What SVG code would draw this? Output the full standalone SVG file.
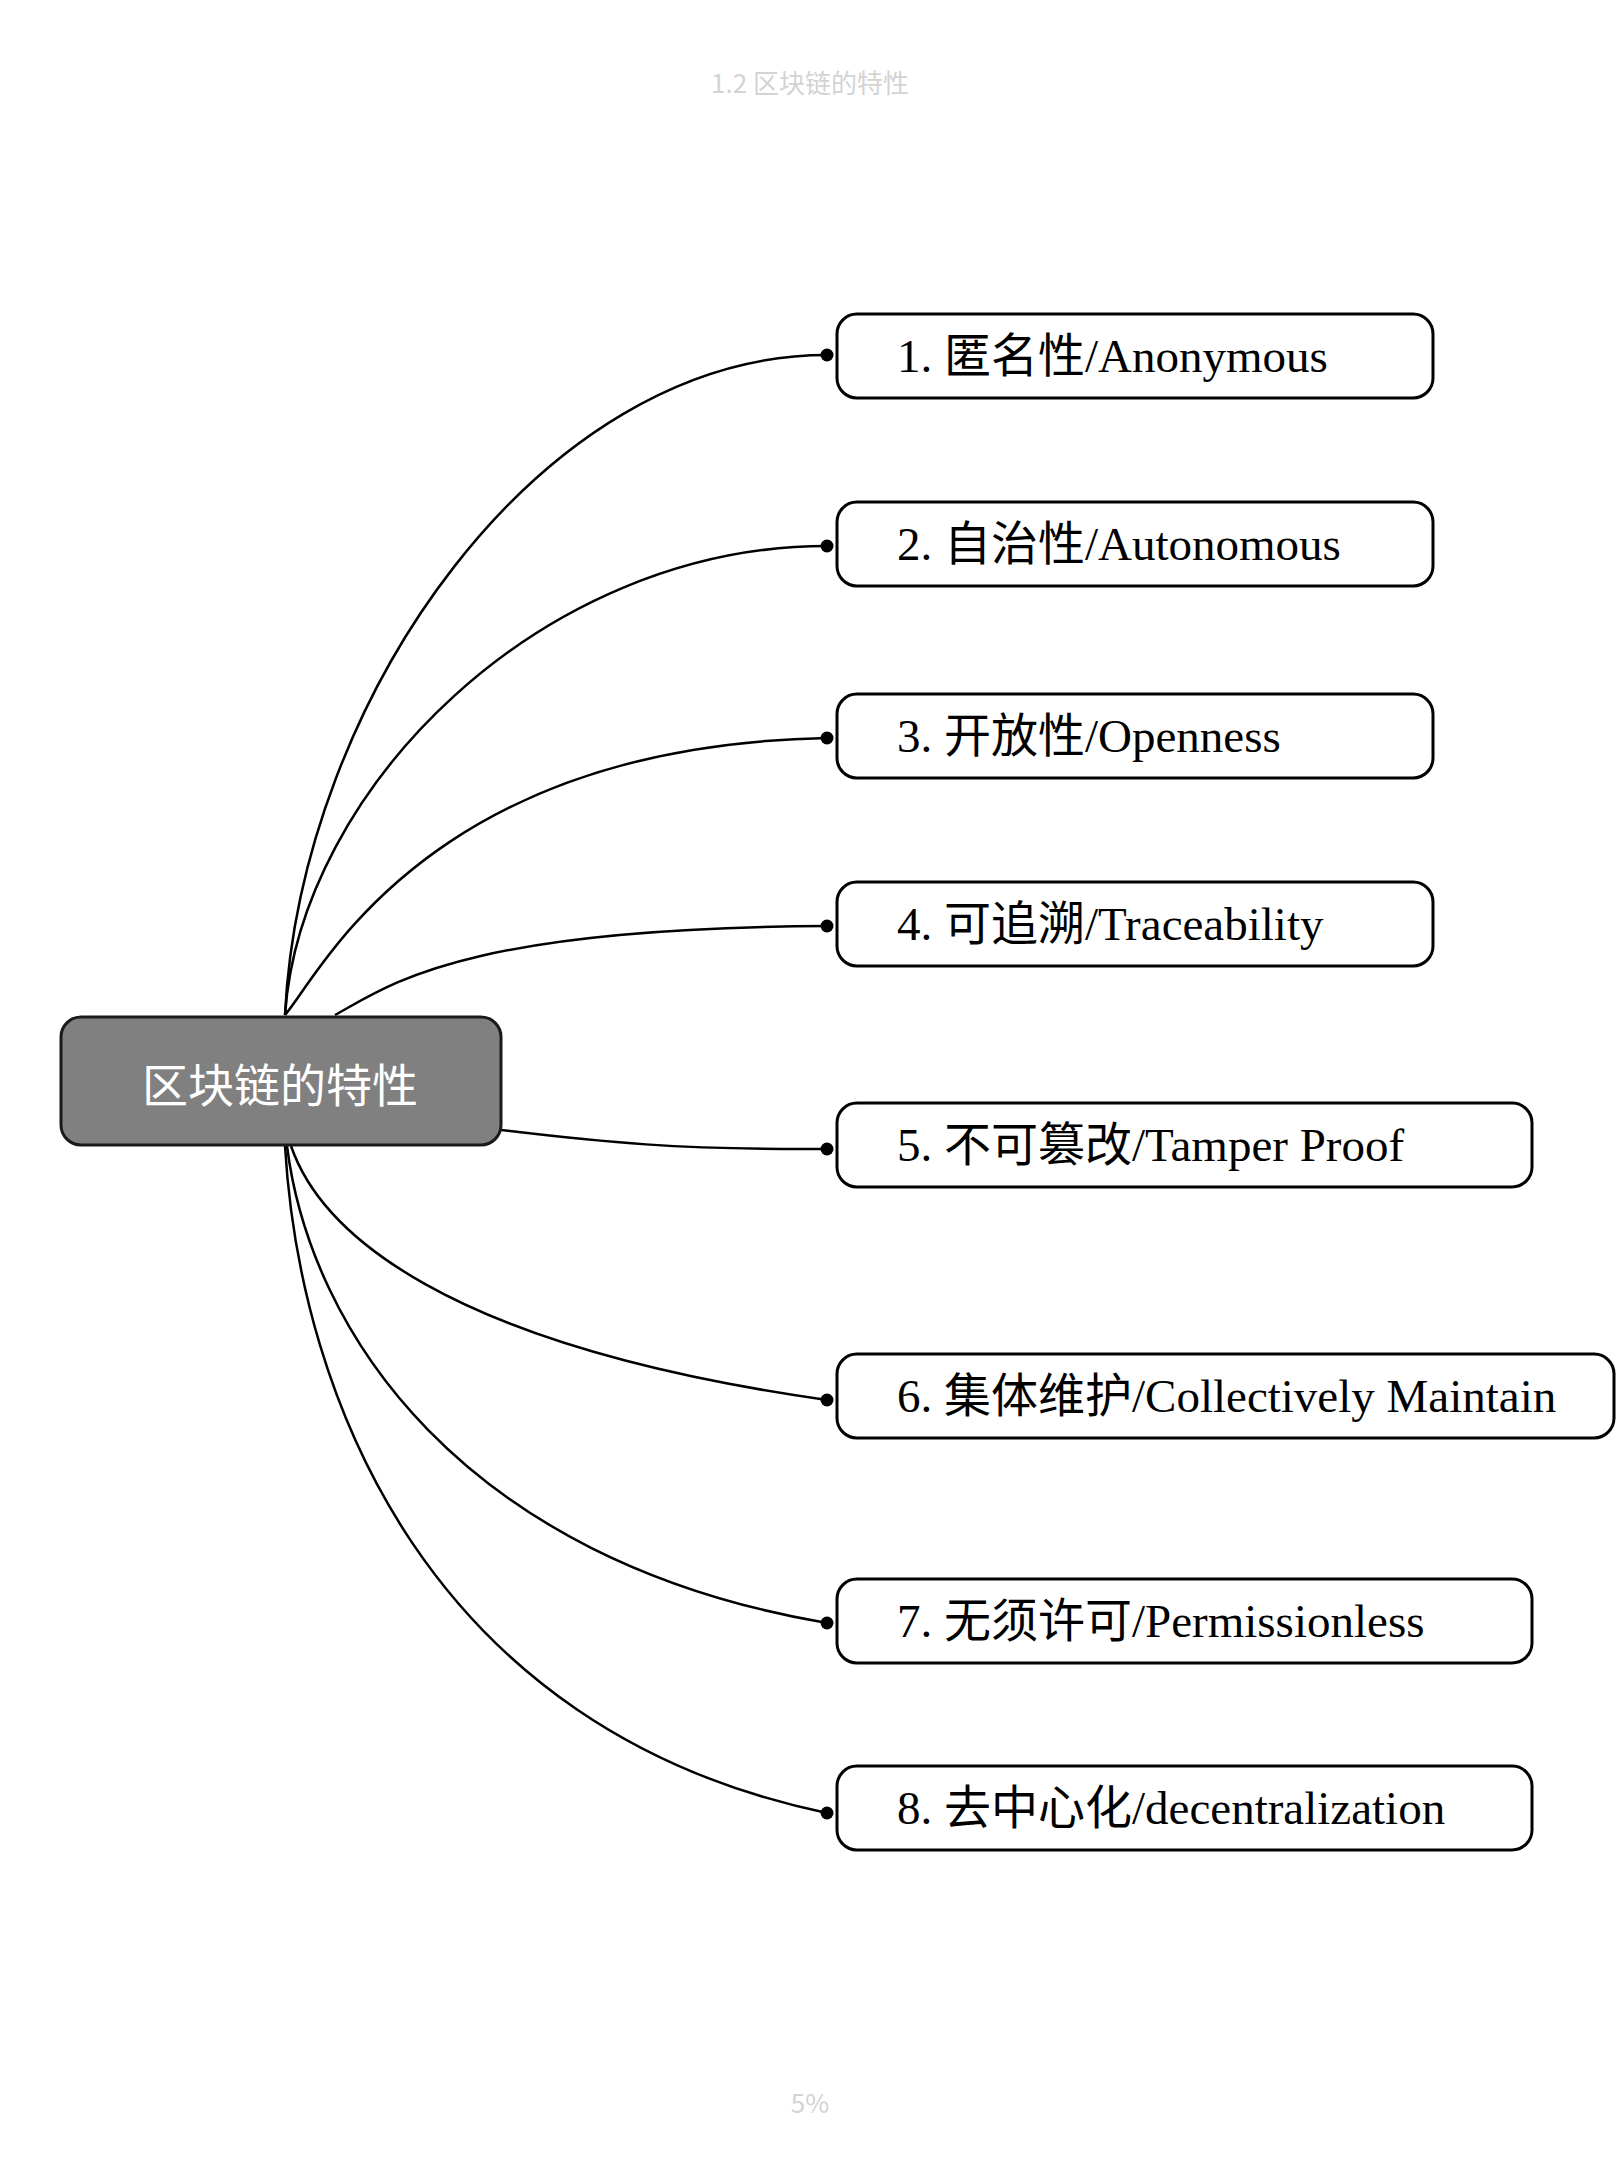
<svg xmlns="http://www.w3.org/2000/svg" width="1620" height="2160" viewBox="0 0 1620 2160">
<style>
.bg{fill:#ffffff}
.node rect{fill:#ffffff;stroke:#000000;stroke-width:3}
.node text{font-family:"Liberation Serif","Noto Sans CJK SC",serif;font-size:47px;fill:#000000}
#root rect{fill:#808080;stroke:#1a1a1a;stroke-width:3}
#root text{font-family:"Noto Sans CJK SC","Liberation Sans",sans-serif;font-size:46px;fill:#ffffff;text-anchor:middle}
.conn path{fill:none;stroke:#000000;stroke-width:2.5}
.conn circle{fill:#000000}
.meta{font-family:"Noto Sans CJK SC","Liberation Sans",sans-serif;font-size:26px;fill:#d3d3d3;text-anchor:middle}
</style>
<rect class="bg" x="0" y="0" width="1620" height="2160"/>
<text class="meta" x="810" y="93">1.2 区块链的特性</text>
<g id="connectors" class="conn">
<path d="M285,1015 C300,700 540,355 827,355"/>
<path d="M285,1015 C300,790 540,546 827,546"/>
<path d="M285,1015 C320,975 425,746 827,738"/>
<path d="M335,1015 C390,985 460,928 827,926"/>
<path d="M501,1130 C600,1142 680,1150 827,1149"/>
<path d="M291,1146 C320,1230 440,1345 827,1400"/>
<path d="M287,1146 C310,1330 460,1560 827,1623"/>
<path d="M285,1146 C300,1400 430,1730 827,1813"/>
<circle cx="827" cy="355" r="6.5"/>
<circle cx="827" cy="546" r="6.5"/>
<circle cx="827" cy="738" r="6.5"/>
<circle cx="827" cy="926" r="6.5"/>
<circle cx="827" cy="1149" r="6.5"/>
<circle cx="827" cy="1400" r="6.5"/>
<circle cx="827" cy="1623" r="6.5"/>
<circle cx="827" cy="1813" r="6.5"/>
</g>
<g id="root">
<rect x="61" y="1017" width="440" height="128" rx="20"/>
<text x="280" y="1102">区块链的特性</text>
</g>
<g id="n1" class="node">
<rect x="837" y="314" width="596" height="84" rx="20"/>
<text x="897" y="372">1. 匿名性/Anonymous</text>
</g>
<g id="n2" class="node">
<rect x="837" y="502" width="596" height="84" rx="20"/>
<text x="897" y="560">2. 自治性/Autonomous</text>
</g>
<g id="n3" class="node">
<rect x="837" y="694" width="596" height="84" rx="20"/>
<text x="897" y="752">3. 开放性/Openness</text>
</g>
<g id="n4" class="node">
<rect x="837" y="882" width="596" height="84" rx="20"/>
<text x="897" y="940">4. 可追溯/Traceability</text>
</g>
<g id="n5" class="node">
<rect x="837" y="1103" width="695" height="84" rx="20"/>
<text x="897" y="1161">5. 不可篡改/Tamper Proof</text>
</g>
<g id="n6" class="node">
<rect x="837" y="1354" width="777" height="84" rx="20"/>
<text x="897" y="1412">6. 集体维护/Collectively Maintain</text>
</g>
<g id="n7" class="node">
<rect x="837" y="1579" width="695" height="84" rx="20"/>
<text x="897" y="1637">7. 无须许可/Permissionless</text>
</g>
<g id="n8" class="node">
<rect x="837" y="1766" width="695" height="84" rx="20"/>
<text x="897" y="1824">8. 去中心化/decentralization</text>
</g>
<text class="meta" x="810" y="2113">5%</text>
</svg>
